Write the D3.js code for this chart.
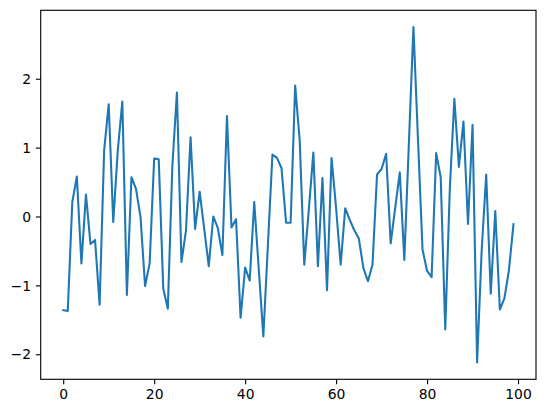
<!DOCTYPE html>
<html>
<head>
<meta charset="utf-8">
<script src="https://cdn.jsdelivr.net/npm/d3@7"></script>
<style>
  html, body { margin: 0; padding: 0; background: #fff; }
  svg { display: block; }
  text { font-family: "DejaVu Sans", sans-serif; }
</style>
</head>
<body>
<svg id="chart" width="546" height="413"></svg>
<script>
// Series values (index 0..99)
const values = [
  -1.36, -1.37, 0.21, 0.58, -0.68, 0.32, -0.40, -0.34, -1.28, 0.96,
  1.63, -0.08, 0.96, 1.67, -1.14, 0.57, 0.40, -0.01, -1.01, -0.68,
  0.84, 0.83, -1.05, -1.34, 0.74, 1.80, -0.66, -0.20, 1.15, -0.18,
  0.36, -0.18, -0.72, 0.00, -0.17, -0.56, 1.46, -0.16, -0.04, -1.47,
  -0.74, -0.93, 0.21, -0.77, -1.74, -0.42, 0.90, 0.85, 0.70, -0.09,
  -0.09, 1.90, 1.10, -0.70, 0.10, 0.93, -0.72, 0.56, -1.07, 0.85,
  0.12, -0.70, 0.12, -0.05, -0.20, -0.32, -0.75, -0.94, -0.70, 0.61,
  0.69, 0.91, -0.39, 0.13, 0.64, -0.63, 1.06, 2.75, 1.12, -0.48,
  -0.79, -0.88, 0.92, 0.57, -1.64, 0.40, 1.71, 0.72, 1.38, -0.11,
  1.33, -2.12, -0.50, 0.61, -1.12, 0.08, -1.35, -1.19, -0.78, -0.11
];
const xTicks = [0, 20, 40, 60, 80, 100];
const yTicks = [-2, -1, 0, 1, 2];

(function () {
  const mLeft = 40.7, mRight = 536, mTop = 10.3, mBottom = 379.3;

  const svg = d3.select("#chart");

  const n = values.length;
  const xPad = (n - 1) * 0.05;
  const x = d3.scaleLinear().domain([-xPad, n - 1 + xPad]).range([mLeft, mRight]);
  const yMin = d3.min(values), yMax = d3.max(values);
  const yPad = (yMax - yMin) * 0.05;
  const y = d3.scaleLinear().domain([yMin - yPad, yMax + yPad]).range([mBottom, mTop]);

  const fmt = d => (d < 0 ? "\u2212" + Math.abs(d) : String(d));

  // line
  const line = d3.line().x((d, i) => x(i)).y(d => y(d));
  svg.append("path")
    .datum(values)
    .attr("fill", "none")
    .attr("stroke", "#1f77b4")
    .attr("stroke-width", 2.08)
    .attr("stroke-linejoin", "round")
    .attr("stroke-linecap", "square")
    .attr("d", line);

  // axes
  const xAxis = d3.axisBottom(x).tickValues(xTicks).tickFormat(fmt).tickSize(4.86).tickPadding(4.86);
  const yAxis = d3.axisLeft(y).tickValues(yTicks).tickFormat(fmt).tickSize(4.86).tickPadding(4.86);

  const gx = svg.append("g").attr("transform", `translate(0,${mBottom})`).call(xAxis);
  const gy = svg.append("g").attr("transform", `translate(${mLeft},0)`).call(yAxis);
  [gx, gy].forEach(g => {
    g.select(".domain").remove();
    g.selectAll(".tick line").attr("stroke", "#000").attr("stroke-width", 1.11);
    g.selectAll(".tick text").attr("fill", "#000").style("font-size", "13.9px")
      .style("font-family", "'DejaVu Sans', sans-serif");
  });
  gx.selectAll(".tick text").attr("dy", "0.71em");
  gy.selectAll(".tick text").attr("dy", "0.34em");

  // frame (spines)
  svg.append("rect")
    .attr("x", mLeft).attr("y", mTop)
    .attr("width", mRight - mLeft).attr("height", mBottom - mTop)
    .attr("fill", "none").attr("stroke", "#000").attr("stroke-width", 1.11);
})();
</script>
</body>
</html>
